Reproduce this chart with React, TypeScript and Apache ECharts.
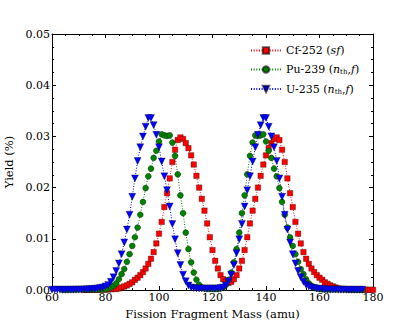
import React, { useEffect, useRef } from "react";
import * as echarts from "echarts";

// Fission fragment yields, one value per integer mass number (amu)
const cfStartMass = 72;
const cfYield = [
  0.00003, 0.00004, 0.00005, 0.00006, 0.00007, 0.00008, 0.0001, 0.0001, 0.0001, 0.0001,
  0.00015, 0.0002, 0.0002, 0.0003, 0.0005, 0.0007, 0.0009, 0.0012, 0.0015, 0.002,
  0.0024, 0.0029, 0.0035, 0.0042, 0.0051, 0.0061, 0.0074, 0.0091, 0.011, 0.0133,
  0.0162, 0.0189, 0.0218, 0.025, 0.0274, 0.0293, 0.0298, 0.0295, 0.0287, 0.0277,
  0.0263, 0.0245, 0.0223, 0.02, 0.0178, 0.0155, 0.013, 0.0103, 0.0078, 0.0057,
  0.0042, 0.0029, 0.0021, 0.0016, 0.0014,
  0.0016, 0.0021, 0.0029, 0.0042, 0.0057, 0.0078, 0.0103, 0.013, 0.0155, 0.0178,
  0.02, 0.0223, 0.0245, 0.0263, 0.0277, 0.0287, 0.0295, 0.0298, 0.0293, 0.0274,
  0.025, 0.0218, 0.0189, 0.0162, 0.0133, 0.011, 0.0091, 0.0074, 0.0061, 0.0051,
  0.0042, 0.0035, 0.0029, 0.0024, 0.002, 0.0015, 0.0012, 0.0009, 0.0007, 0.0005,
  0.0003, 0.0002, 0.0002, 0.00015, 0.0001, 0.0001, 0.0001, 0.0001, 0.00008, 0.00007,
  0.00006, 0.00005, 0.00004, 0.00003,
];

const puStartMass = 64;
const puYield = [
  0.00003, 0.00003, 0.00004, 0.00005, 0.00006, 0.00008, 0.0001, 0.0001, 0.0001, 0.0001,
  0.0001, 0.0001, 0.0001, 0.0001, 0.0001, 0.00015, 0.0002, 0.0003, 0.0005, 0.0008,
  0.0013, 0.0021, 0.0031, 0.0041, 0.0055, 0.007, 0.0086, 0.0103, 0.0122, 0.0147,
  0.0172, 0.0199, 0.0222, 0.0237, 0.0258, 0.0272, 0.029, 0.0304, 0.0302, 0.0301,
  0.0302, 0.0288, 0.0262, 0.0226, 0.0185, 0.015, 0.0112, 0.008, 0.0054, 0.0034,
  0.002, 0.001, 0.0005, 0.0003, 0.0002, 0.0002, 0.0002,
  0.0002, 0.0002, 0.0003, 0.0005, 0.001, 0.002, 0.0034, 0.0054, 0.008, 0.0112,
  0.015, 0.0185, 0.0226, 0.0262, 0.0288, 0.0302, 0.0301, 0.0302, 0.0304, 0.029,
  0.0272, 0.0258, 0.0237, 0.0222, 0.0199, 0.0172, 0.0147, 0.0122, 0.0103, 0.0086,
  0.007, 0.0055, 0.0041, 0.0031, 0.0021, 0.0013, 0.0008, 0.0005, 0.0003, 0.0002,
  0.00015, 0.0001, 0.0001, 0.0001, 0.0001, 0.0001, 0.0001, 0.0001, 0.0001, 0.0001,
  0.00008, 0.00006, 0.00005, 0.00004, 0.00003, 0.00003,
];

const uStartMass = 60;
const uYield = [
  0.00005, 0.00005, 0.00005, 0.00005, 0.00005, 0.00005, 0.00005, 0.00006, 0.00007, 0.00008,
  0.0001, 0.0001, 0.00012, 0.00014, 0.00016, 0.0002, 0.00025, 0.0003, 0.0004, 0.0005,
  0.0007, 0.001, 0.0016, 0.0025, 0.0037, 0.0052, 0.007, 0.0093, 0.0118, 0.0147,
  0.0182, 0.0218, 0.0252, 0.0279, 0.03, 0.0319, 0.0336, 0.0336, 0.0322, 0.0303,
  0.0279, 0.0251, 0.0222, 0.0195, 0.0163, 0.0129, 0.0099, 0.0072, 0.0049, 0.003,
  0.0017, 0.0009, 0.0005, 0.0004, 0.0003, 0.0003, 0.0003, 0.0003, 0.0003,
  0.0003, 0.0003, 0.0003, 0.0003, 0.0004, 0.0005, 0.0009, 0.0017, 0.003, 0.0049,
  0.0072, 0.0099, 0.0129, 0.0163, 0.0195, 0.0222, 0.0251, 0.0279, 0.0303, 0.0322,
  0.0336, 0.0336, 0.0319, 0.03, 0.0279, 0.0252, 0.0218, 0.0182, 0.0147, 0.0118,
  0.0093, 0.007, 0.0052, 0.0037, 0.0025, 0.0016, 0.001, 0.0007, 0.0005, 0.0004,
  0.0003, 0.00025, 0.0002, 0.00016, 0.00014, 0.00012, 0.0001, 0.0001, 0.00008, 0.00007,
  0.00006, 0.00005, 0.00005, 0.00005, 0.00005, 0.00005, 0.00005, 0.00005,
];

const seriesNames = ["Cf-252 (sf)", "Pu-239 (nth,f)", "U-235 (nth,f)"];
const xTicks = { min: 60, max: 180, interval: 20 };
const yTicks = { min: 0, max: 0.05, interval: 0.01 };

const toPairs = (start: number, ys: number[]) => ys.map((y, i) => [start + i, y]);

const FONT = "DejaVu Serif";

export default function App() {
  const ref = useRef<HTMLDivElement>(null);
  useEffect(() => {
    if (!ref.current) return;
    const chart = echarts.init(ref.current, undefined, { renderer: "svg" });
    const tick = { show: true, inside: true, length: 4, lineStyle: { color: "#000", width: 1 } };
    const minor = { show: true, splitNumber: 4, length: 2, lineStyle: { color: "#000", width: 1 } };
    const axisLine = { show: true, onZero: false, lineStyle: { color: "#000", width: 1 } };
    const label = { fontFamily: FONT, fontSize: 11, color: "#000" };
    const nameStyle = { fontFamily: FONT, fontSize: 11.5, color: "#000" };
    const mk = (name: string, start: number, ys: number[], color: string, symbol: string, size: number, rot = 0) => ({
      name,
      type: "line",
      data: toPairs(start, ys),
      symbol,
      symbolSize: size,
      symbolRotate: rot,
      showAllSymbol: true,
      lineStyle: { color, width: 1, type: [1, 1.65] },
      itemStyle: { color, borderColor: "rgba(0,0,0,0.6)", borderWidth: 0.5 },
      emphasis: { disabled: true },
      z: 2,
    });
    chart.setOption({
      animation: false,
      backgroundColor: "#fff",
      grid: { left: 52, right: 42, top: 34, bottom: 42, containLabel: false, outerBoundsMode: "none" },
      legend: {
        orient: "vertical",
        left: 245,
        top: 40,
        itemWidth: 30,
        itemHeight: 8,
        itemGap: 8,
        data: seriesNames,
        textStyle: {
          fontFamily: FONT,
          fontSize: 11,
          color: "#000",
          rich: {
            i: { fontFamily: FONT, fontSize: 11, fontStyle: "italic", color: "#000" },
            r: { fontFamily: FONT, fontSize: 11, color: "#000" },
            s: { fontFamily: FONT, fontSize: 7, color: "#000", padding: [5, 0, 0, 0] },
          },
        },
        formatter: (name: string) => {
          if (name === seriesNames[0]) return "Cf-252 ({i|sf})";
          if (name === seriesNames[1]) return "Pu-239 ({i|n}{s|th}{r|,}{i|f})";
          return "U-235 ({i|n}{s|th}{r|,}{i|f})";
        },
      },
      xAxis: [
        {
          type: "value", min: xTicks.min, max: xTicks.max, interval: xTicks.interval,
          axisLine, axisTick: tick, minorTick: minor, splitLine: { show: false },
          axisLabel: { ...label, margin: 2 },
          name: "Fission Fragment Mass (amu)", nameLocation: "middle", nameGap: 16,
          nameTextStyle: nameStyle,
        },
        {
          type: "value", position: "top", min: xTicks.min, max: xTicks.max, interval: xTicks.interval,
          axisLine, axisTick: tick, minorTick: minor, splitLine: { show: false },
          axisLabel: { show: false },
        },
      ],
      yAxis: [
        {
          type: "value", min: yTicks.min, max: yTicks.max, interval: yTicks.interval,
          axisLine, axisTick: tick, minorTick: minor, splitLine: { show: false },
          axisLabel: { ...label, margin: 2, formatter: (v: number) => v.toFixed(2) },
          name: "Yield (%)", nameLocation: "middle", nameGap: 34,
          nameTextStyle: nameStyle,
        },
        {
          type: "value", position: "right", min: yTicks.min, max: yTicks.max, interval: yTicks.interval,
          axisLine, axisTick: tick, minorTick: minor, splitLine: { show: false },
          axisLabel: { show: false },
        },
      ],
      series: [
        mk(seriesNames[0], cfStartMass, cfYield, "#ff0000", "rect", 5.5),
        mk(seriesNames[1], puStartMass, puYield, "#008000", "circle", 6),
        mk(seriesNames[2], uStartMass, uYield, "#0000ff", "triangle", 7, 180),
      ],
    });
    return () => chart.dispose();
  }, []);
  return <div ref={ref} style={{ position: "fixed", left: 0, top: 0, width: 415, height: 332 }} />;
}
